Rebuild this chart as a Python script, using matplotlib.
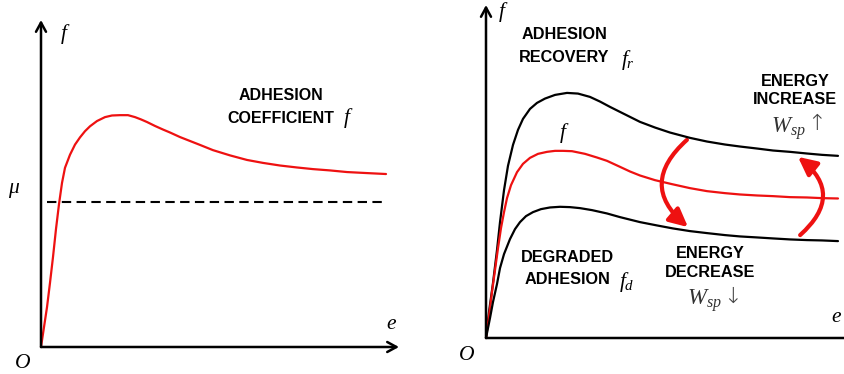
import matplotlib
matplotlib.use("Agg")
import matplotlib.pyplot as plt
from matplotlib.patches import FancyArrowPatch

plt.rcParams["mathtext.fontset"] = "custom"
plt.rcParams["mathtext.it"] = "Liberation Serif:italic"
plt.rcParams["mathtext.rm"] = "Liberation Serif"

# ---- left panel: adhesion coefficient vs creep ----
slip_left = [0, 0.084, 0.168, 0.251, 0.335, 0.419, 0.503, 0.587, 0.670, 0.810,
             0.950, 1.089, 1.229, 1.369, 1.564, 1.788, 1.983, 2.207, 2.430, 2.626,
             2.793, 2.961, 3.184, 3.408, 3.603, 3.883, 4.162, 4.441, 4.804, 5.279,
             5.754, 6.201, 6.676, 7.151, 7.598, 8.073, 8.547, 9.078, 9.637]
adhesion_left = [0, 0.061, 0.122, 0.196, 0.275, 0.361, 0.437, 0.502, 0.548, 0.588,
                 0.619, 0.641, 0.660, 0.675, 0.691, 0.703, 0.708, 0.709, 0.709, 0.703,
                 0.696, 0.688, 0.676, 0.665, 0.656, 0.642, 0.630, 0.618, 0.602, 0.586,
                 0.572, 0.563, 0.555, 0.549, 0.544, 0.540, 0.535, 0.532, 0.529]
mu_level = 0.443
mu_span = [0.17, 9.66]

# ---- right panel: recovered / nominal / degraded adhesion ----
slip_recovery = [0, 0.082, 0.192, 0.302, 0.385, 0.495, 0.604, 0.742, 0.879, 1.016,
                 1.209, 1.401, 1.621, 1.896, 2.225, 2.527, 2.857, 3.132, 3.407, 3.681,
                 3.956, 4.231, 4.643, 5.055, 5.604, 6.071, 6.566, 6.978, 7.445, 7.885,
                 8.352, 8.819, 9.231, 9.670]
adhesion_recovery = [0, 0.078, 0.165, 0.264, 0.348, 0.444, 0.517, 0.580, 0.625, 0.658,
                     0.688, 0.706, 0.719, 0.730, 0.736, 0.734, 0.724, 0.710, 0.694, 0.679,
                     0.664, 0.649, 0.632, 0.617, 0.601, 0.590, 0.581, 0.575, 0.569, 0.563,
                     0.559, 0.554, 0.550, 0.547]

slip_nominal = [0, 0.082, 0.165, 0.247, 0.330, 0.412, 0.495, 0.577, 0.687, 0.852,
                1.016, 1.209, 1.429, 1.676, 1.896, 2.115, 2.363, 2.720, 3.049, 3.324,
                3.681, 3.956, 4.231, 4.643, 5.110, 5.604, 6.071, 6.566, 6.978, 7.445,
                7.885, 8.352, 8.819, 9.231, 9.670]
adhesion_nominal = [0, 0.066, 0.138, 0.204, 0.270, 0.330, 0.378, 0.420, 0.459, 0.498,
                    0.523, 0.541, 0.553, 0.559, 0.562, 0.562, 0.561, 0.553, 0.542, 0.532,
                    0.514, 0.500, 0.488, 0.474, 0.462, 0.450, 0.441, 0.435, 0.431, 0.428,
                    0.426, 0.423, 0.422, 0.420, 0.419]

slip_degraded = [0, 0.110, 0.192, 0.302, 0.385, 0.495, 0.659, 0.797, 0.934, 1.099,
                 1.291, 1.511, 1.758, 2.033, 2.308, 2.582, 2.912, 3.324, 3.681, 4.231,
                 4.698, 5.137, 5.604, 6.071, 6.566, 6.978, 7.445, 7.885, 8.352, 8.819,
                 9.231, 9.670]
adhesion_degraded = [0, 0.060, 0.108, 0.162, 0.210, 0.252, 0.297, 0.327, 0.348, 0.366,
                     0.378, 0.387, 0.392, 0.394, 0.393, 0.390, 0.384, 0.374, 0.363, 0.348,
                     0.338, 0.329, 0.321, 0.315, 0.309, 0.305, 0.302, 0.299, 0.296, 0.294,
                     0.293, 0.291]

RED = "#ee1111"
BOLD = dict(family="Liberation Sans", fontweight="bold", color="black")
ITAL = dict(family="Liberation Serif", style="italic", color="black")
SYM = dict(family=["DejaVu Sans"], fontweight="ultralight", color="#444444")

fig = plt.figure(figsize=(8.44, 3.74), dpi=100)
ax1 = fig.add_axes([0.04858, 0.07219, 0.42417, 0.87433])
ax2 = fig.add_axes([0.57583, 0.09626, 0.43128, 0.89037])
for ax in (ax1, ax2):
    ax.set_xlim(0, 10)
    ax.set_ylim(0, 1)
    ax.set_axis_off()


def draw_axes(ax, x_end, y_end):
    kw = dict(arrowstyle="->,head_length=0.55,head_width=0.3", color="black",
              lw=1.8, mutation_scale=12, shrinkA=0, shrinkB=0)
    ax.annotate("", xy=(x_end, 0), xytext=(0, 0), arrowprops=kw,
                annotation_clip=False)
    ax.annotate("", xy=(0, y_end), xytext=(0, 0), arrowprops=kw,
                annotation_clip=False)


def curve(ax, x, y, color):
    ax.plot(x, y, color=color, lw=1.6, solid_joinstyle="round",
            solid_capstyle="round", clip_on=False)


# left panel
draw_axes(ax1, 10.0, 1.0)
ax1.plot(mu_span, [mu_level, mu_level], color="black", lw=1.5,
         dashes=(4.5, 2.6), clip_on=False)
curve(ax1, slip_left, adhesion_left, RED)
ax1.text(0.64, 0.957, "f", fontsize=15.5, ha="center", va="center", **ITAL)
ax1.text(-0.78, 0.486, "μ", fontsize=15.5, ha="center", va="center", **ITAL)
ax1.text(-0.50, -0.049, "O", fontsize=15.5, ha="center", va="center", **ITAL)
ax1.text(9.78, 0.070, "e", fontsize=15.5, ha="center", va="center", **ITAL)
ax1.text(6.70, 0.768, "ADHESION", fontsize=11.5, ha="center", va="center", **BOLD)
ax1.text(6.69, 0.700, "COEFFICIENT", fontsize=11.5, ha="center", va="center", **BOLD)
ax1.text(8.55, 0.700, "f", fontsize=15.5, ha="center", va="center", **ITAL)

# right panel
draw_axes(ax2, 10.3, 1.0)
curve(ax2, slip_recovery, adhesion_recovery, "black")
curve(ax2, slip_nominal, adhesion_nominal, RED)
curve(ax2, slip_degraded, adhesion_degraded, "black")

ax2.text(0.44, 0.979, "f", fontsize=15.5, ha="center", va="center", **ITAL)
ax2.text(-0.52, -0.054, "O", fontsize=15.5, ha="center", va="center", **ITAL)
ax2.text(9.62, 0.063, "e", fontsize=15.5, ha="center", va="center", **ITAL)
ax2.text(2.12, 0.616, "f", fontsize=15.5, ha="center", va="center", **ITAL)

ax2.text(2.16, 0.910, "ADHESION", fontsize=11.7, ha="center", va="center", **BOLD)
ax2.text(2.14, 0.841, "RECOVERY", fontsize=11.7, ha="center", va="center", **BOLD)
ax2.text(3.90, 0.835, r"$f_r$", fontsize=15.5, ha="center", va="center")

ax2.text(2.25, 0.243, "DEGRADED", fontsize=11.7, ha="center", va="center", **BOLD)
ax2.text(2.23, 0.177, "ADHESION", fontsize=11.7, ha="center", va="center", **BOLD)
ax2.text(3.88, 0.168, r"$f_d$", fontsize=15.5, ha="center", va="center")

ax2.text(8.49, 0.769, "ENERGY", fontsize=11.7, ha="center", va="center", **BOLD)
ax2.text(8.49, 0.715, "INCREASE", fontsize=11.7, ha="center", va="center", **BOLD)
ax2.text(8.30, 0.628, r"$W_{sp}$", fontsize=16.5, ha="center", va="center",
         color="#333333")
ax2.text(9.09, 0.643, "↑", fontsize=16, ha="center", va="center", **SYM)

ax2.text(6.15, 0.255, "ENERGY", fontsize=11.7, ha="center", va="center", **BOLD)
ax2.text(6.15, 0.198, "DECREASE", fontsize=11.7, ha="center", va="center", **BOLD)
ax2.text(6.00, 0.111, r"$W_{sp}$", fontsize=16.5, ha="center", va="center",
         color="#333333")
ax2.text(6.76, 0.123, "↓", fontsize=16, ha="center", va="center", **SYM)

# curved red arrows between the curves
arrow_kw = dict(arrowstyle="-|>,head_length=0.55,head_width=0.27",
                mutation_scale=20, color=RED, lw=3.0, shrinkA=0, shrinkB=0)
ax2.add_patch(FancyArrowPatch((5.52, 0.595), (5.55, 0.333),
                              connectionstyle="arc3,rad=0.57", **arrow_kw))
ax2.add_patch(FancyArrowPatch((8.63, 0.309), (8.57, 0.544),
                              connectionstyle="arc3,rad=0.59", **arrow_kw))

fig.savefig("out.png", dpi=100)
